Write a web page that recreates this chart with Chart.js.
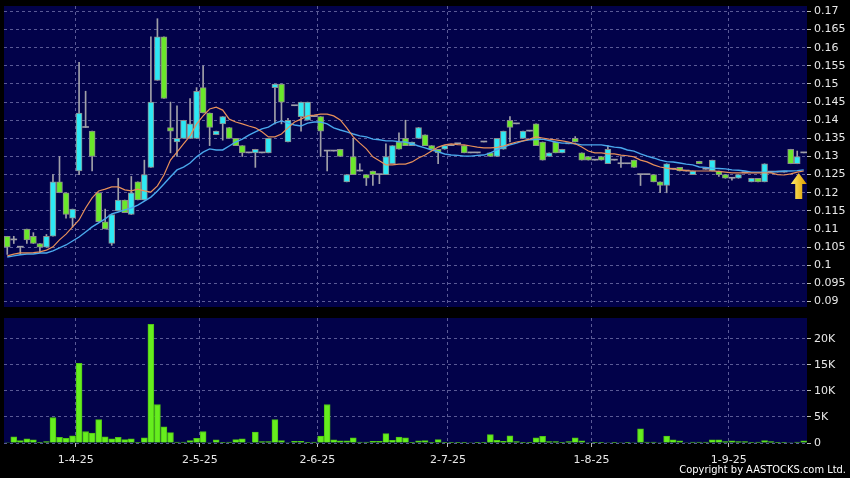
<!DOCTYPE html>
<html>
<head>
<meta charset="utf-8">
<script src="https://cdn.jsdelivr.net/npm/chart.js@4.4.1/dist/chart.umd.min.js"></script>
<style>
html, body { margin: 0; padding: 0; background: #000; }
#quadro { position: relative; width: 850px; height: 478px; overflow: hidden; background: #000; }
#caixaPreco { position: absolute; left: 0; top: 0; }
#caixaVolume { position: absolute; left: 0; top: 312px; }
#copyright { position: absolute; right: 4px; top: 463px; font: 11px "DejaVu Sans Condensed", "DejaVu Sans", sans-serif; color: #fff; white-space: nowrap; }
</style>
</head>
<body>
<div id="quadro">
  <canvas id="caixaPreco" width="850" height="312"></canvas>
  <canvas id="caixaVolume" width="850" height="166"></canvas>
  <div id="copyright">Copyright by AASTOCKS.com Ltd.</div>
</div>
<script>
// rotulos do eixo x (posicao = indice da vela)
const posTicks = [11, 30, 48, 68, 90, 111];
const rotulosTicks = ['1-4-25', '2-5-25', '2-6-25', '2-7-25', '1-8-25', '1-9-25'];
const ticksVolume = [0, 5000, 10000, 15000, 20000];

const abertura = [
  .108,.107,.105,.110,.108,.106,.105,.108,.123,.120,
  .113,.126,.138,.137,.120,.112,.106,.115,.118,.114,
  .123,.118,.127,.151,.163,.138,.134,.135,.135,.135,
  .149,.142,.136,.139,.138,.135,.133,.131,.131,.131,
  .131,.149,.150,.134,.144,.141,.140,.141,.141,.1315,
  .1315,.132,.123,.130,.126,.125,.126,.125,.125,.128,
  .134,.135,.133,.135,.136,.133,.132,.132,.133,.1335,
  .133,.131,.131,.134,.131,.130,.132,.140,.139,.135,
  .137,.139,.134,.130,.134,.131,.1335,.135,.131,.130,
  .129,.130,.128,.129,.128,.128,.129,.125,.125,.125,
  .123,.122,.1265,.127,.126,.125,.1287,.1265,.126,.126,
  .125,.124,.124,.1255,.123,.124,.123,.1257,.1257,.1257,
  .132,.128,.131
];
const maximo = [
  .108,.108,.105,.110,.109,.106,.1085,.125,.130,.120,
  .1155,.156,.148,.137,.120,.1155,.114,.124,.118,.1245,
  .123,.129,.163,.168,.163,.145,.144,.140,.146,.149,
  .155,.142,.137,.141,.138,.135,.133,.131,.132,.131,
  .135,.150,.150,.1405,.144,.145,.145,.141,.141,.1315,
  .1315,.132,.125,.135,.128,.125,.126,.125,.1335,.133,
  .1365,.140,.134,.138,.136,.133,.132,.133,.133,.1335,
  .133,.131,.131,.134,.131,.135,.137,.141,.139,.137,
  .137,.139,.134,.131,.134,.132,.1335,.1355,.131,.130,
  .129,.130,.133,.129,.130,.128,.129,.125,.125,.125,
  .123,.128,.1265,.127,.126,.126,.1287,.1265,.129,.126,
  .125,.124,.125,.1255,.124,.124,.128,.1257,.1257,.1257,
  .132,.1315,.131
];
const minimo = [
  .103,.106,.103,.106,.106,.1035,.105,.108,.120,.113,
  .1105,.125,.138,.126,.112,.110,.1055,.115,.1145,.114,
  .118,.118,.127,.151,.146,.131,.130,.135,.135,.135,
  .142,.133,.136,.1345,.135,.133,.130,.131,.127,.131,
  .131,.139,.139,.134,.144,.137,.140,.141,.130,.126,
  .1315,.130,.123,.125,.126,.122,.122,.1225,.125,.128,
  .132,.133,.133,.135,.133,.132,.128,.132,.133,.1335,
  .131,.131,.131,.134,.130,.130,.132,.134,.139,.135,
  .137,.133,.129,.130,.131,.131,.1335,.134,.129,.129,
  .129,.129,.128,.129,.127,.128,.127,.122,.125,.123,
  .120,.120,.1265,.126,.126,.125,.128,.1265,.126,.1245,
  .124,.1235,.124,.1255,.123,.123,.123,.1257,.1257,.1257,
  .128,.128,.131
];
const fecho = [
  .105,.107,.105,.107,.106,.105,.108,.123,.120,.114,
  .1155,.142,.138,.130,.112,.110,.114,.118,.1145,.120,
  .118,.125,.145,.163,.146,.137,.135,.140,.139,.148,
  .142,.138,.137,.141,.135,.133,.131,.131,.132,.131,
  .135,.150,.145,.140,.144,.145,.145,.141,.137,.1315,
  .1315,.130,.125,.125,.126,.124,.125,.125,.130,.133,
  .132,.133,.134,.138,.133,.132,.131,.133,.133,.1335,
  .131,.131,.131,.134,.130,.135,.137,.138,.139,.137,
  .137,.133,.129,.131,.131,.132,.1335,.134,.129,.129,
  .129,.129,.132,.129,.128,.128,.127,.125,.125,.123,
  .122,.128,.1265,.126,.126,.126,.128,.1265,.129,.125,
  .124,.124,.125,.1255,.124,.123,.128,.1257,.1257,.1257,
  .128,.130,.131
];
const volume = [
  100,1200,450,800,600,50,250,4900,1100,900,
  1400,15300,2200,1900,4500,1200,800,1100,650,800,
  50,1000,22800,7400,3100,2000,200,200,450,900,
  2200,100,600,50,200,650,800,100,2100,250,
  250,4500,450,100,300,300,50,200,1350,7400,
  600,400,400,1000,200,200,300,300,1800,500,
  1150,1000,50,400,450,50,650,50,50,50,
  50,100,50,50,1600,500,300,1400,250,50,
  50,1000,1300,250,250,50,250,1000,400,100,
  50,50,100,50,100,50,100,2700,200,200,
  100,1350,600,400,100,200,200,200,600,600,
  250,400,250,250,50,200,450,250,50,50,
  100,200,400
];
// medias moveis (laranja = curta, azul = longa)
const mediaCurta = [
  .1026,.1031,.1034,.1034,.1035,.1037,.1042,.1051,.1070,.1086,
  .1106,.1125,.1158,.1186,.1205,.1210,.1216,.1216,.1208,.1205,
  .1210,.1205,.1202,.1219,.1249,.1290,.1312,.1335,.1357,.1390,
  .1412,.1431,.1436,.1428,.1403,.1395,.1390,.1384,.1379,.1368,
  .1354,.1354,.1362,.1379,.1395,.1403,.1412,.1414,.1417,.1417,
  .1412,.1401,.1379,.1354,.1337,.1321,.1299,.1288,.1277,.1277,
  .1279,.1279,.1285,.1296,.1304,.1315,.1326,.1332,.1335,.1333,
  .1332,.1329,.1326,.1324,.1324,.1325,.1329,.1335,.1340,.1343,
  .1348,.1354,.1351,.1348,.1346,.1343,.1340,.1335,.1326,.1315,
  .1310,.1310,.1307,.1307,.1304,.1302,.1299,.1290,.1285,.1277,
  .1271,.1268,.1266,.1263,.1261,.1260,.1260,.1260,.1260,.1259,
  .1257,.1255,.1255,.1255,.1255,.1255,.1255,.1255,.1250,.1249,
  .1252,.1257,.1260
];
const mediaLonga = [
  .1023,.1026,.1029,.1031,.1031,.1034,.1034,.1040,.1048,.1056,
  .1067,.1078,.1092,.1106,.1117,.1128,.1142,.1147,.1153,.1158,
  .1166,.1177,.1188,.1205,.1224,.1244,.1263,.1271,.1282,.1299,
  .1312,.1321,.1318,.1318,.1329,.1340,.1348,.1359,.1368,.1376,
  .1381,.1392,.1398,.1392,.1387,.1384,.1392,.1395,.1395,.1390,
  .1379,.1373,.1368,.1362,.1357,.1354,.1348,.1346,.1343,.1343,
  .1341,.1340,.1335,.1329,.1324,.1318,.1313,.1307,.1304,.1303,
  .1301,.1301,.1303,.1304,.1310,.1318,.1326,.1332,.1337,.1343,
  .1346,.1347,.1348,.1344,.1340,.1337,.1337,.1335,.1332,.1332,
  .1332,.1332,.1329,.1326,.1324,.1318,.1315,.1307,.1301,.1296,
  .1290,.1286,.1285,.1282,.1279,.1277,.1271,.1270,.1268,.1267,
  .1266,.1263,.1262,.1260,.1257,.1257,.1257,.1257,.1259,.1260,
  .1260,.1261,.1263
];

const corFundo = '#02024a';
const corGrelha = '#5a5a96';
const corSobe = '#2ee8f4';
const corDesce = '#6ae82a';
const corPavio = '#a0a0a8';
const corTexto = '#e8e8e8';
const fonteEixo = { family: '"DejaVu Sans", sans-serif', size: 11 };

const indices = abertura.map((_, i) => i);
const corpos = indices.map(i => [Math.min(abertura[i], fecho[i]), Math.max(abertura[i], fecho[i])]);
const pavios = indices.map(i => [minimo[i], maximo[i]]);

const fundoPlugin = {
  id: 'fundo',
  beforeDraw(chart) {
    const { ctx, chartArea: a } = chart;
    ctx.save();
    ctx.fillStyle = corFundo;
    ctx.fillRect(a.left, a.top, a.right - a.left, a.bottom - a.top);
    ctx.restore();
  }
};

const setaPlugin = {
  id: 'seta',
  afterDatasetsDraw(chart) {
    const ultimo = mediaCurta.length - 1;
    const x = chart.scales.x.getPixelForValue(ultimo) - 5;
    const topo = chart.scales.y.getPixelForValue(mediaCurta[ultimo]) + 2;
    const ctx = chart.ctx;
    const grad = ctx.createLinearGradient(x - 7, 0, x + 7, 0);
    grad.addColorStop(0, '#ffe866');
    grad.addColorStop(1, '#e0a000');
    ctx.save();
    ctx.beginPath();
    ctx.moveTo(x, topo);
    ctx.lineTo(x + 8, topo + 11);
    ctx.lineTo(x + 3.5, topo + 11);
    ctx.lineTo(x + 3.5, topo + 26);
    ctx.lineTo(x - 3.5, topo + 26);
    ctx.lineTo(x - 3.5, topo + 11);
    ctx.lineTo(x - 8, topo + 11);
    ctx.closePath();
    ctx.fillStyle = grad;
    ctx.fill();
    ctx.restore();
  }
};

// tira o espaco extra que o chart.js reserva para meio rotulo
function eixoDireito(s) {
  s.width = 43;
  s.paddingTop = 0;
  s.paddingBottom = 0;
}

function eixoX(mostrarRotulos) {
  return {
    type: 'linear',
    min: -0.5,
    max: indices.length - 0.5,
    offset: false,
    afterBuildTicks: s => { s.ticks = posTicks.map(v => ({ value: v - 0.5 })); },
    afterFit: s => {
      s.height = mostrarRotulos ? 35 : 0;
      s.paddingLeft = 0;
      s.paddingRight = 0;
    },
    ticks: {
      display: mostrarRotulos,
      color: corTexto,
      font: fonteEixo,
      padding: 7,
      maxRotation: 0,
      autoSkip: false,
      callback: v => rotulosTicks[posTicks.indexOf(Math.round(v + 0.5))]
    },
    grid: { color: corGrelha, offset: false, drawTicks: mostrarRotulos, tickLength: 4, tickColor: '#bbbbbb' },
    border: { display: false, dash: [3, 3] }
  };
}

new Chart(document.getElementById('caixaPreco').getContext('2d'), {
  type: 'bar',
  data: {
    labels: indices,
    datasets: [
      {
        type: 'line', data: mediaCurta, borderColor: '#e8905a', borderWidth: 1.2,
        pointRadius: 0, tension: 0, order: 0
      },
      {
        type: 'line', data: mediaLonga, borderColor: '#4aa8ec', borderWidth: 1.4,
        pointRadius: 0, tension: 0, order: 1
      },
      {
        data: corpos,
        grouped: false,
        barThickness: 6,
        minBarLength: 1,
        order: 2,
        backgroundColor: c => fecho[c.dataIndex] > abertura[c.dataIndex] ? corSobe
          : fecho[c.dataIndex] < abertura[c.dataIndex] ? corDesce : corPavio,
        borderColor: '#8c8c8c',
        borderWidth: c => fecho[c.dataIndex] === abertura[c.dataIndex] ? 0 : 1,
        borderSkipped: false
      },
      {
        data: pavios,
        grouped: false,
        barThickness: 1,
        order: 3,
        backgroundColor: corPavio
      }
    ]
  },
  options: {
    responsive: false,
    animation: false,
    layout: { padding: { left: 4, top: 6, right: 0, bottom: 5 } },
    scales: {
      x: eixoX(false),
      y: {
        position: 'right',
        min: 0.0885,
        max: 0.1715,
        beginAtZero: false,
        afterFit: eixoDireito,
        ticks: {
          stepSize: 0.005,
          includeBounds: false,
          color: corTexto,
          font: fonteEixo,
          padding: 3,
          callback: v => String(+v.toFixed(3))
        },
        grid: { color: corGrelha, tickLength: 4, tickColor: '#bbbbbb' },
        border: { display: false, dash: [3, 3] }
      }
    },
    plugins: { legend: { display: false }, tooltip: { enabled: false } }
  },
  plugins: [fundoPlugin, setaPlugin]
});

new Chart(document.getElementById('caixaVolume').getContext('2d'), {
  type: 'bar',
  data: {
    labels: indices,
    datasets: [{
      data: volume,
      barThickness: 6,
      backgroundColor: '#66ee1e',
      borderColor: '#4fc415',
      borderWidth: 1,
      borderSkipped: 'bottom'
    }]
  },
  options: {
    responsive: false,
    animation: false,
    layout: { padding: { left: 4, top: 6, right: 0, bottom: 0 } },
    scales: {
      x: eixoX(true),
      y: {
        position: 'right',
        min: 0,
        max: 24000,
        afterFit: eixoDireito,
        afterBuildTicks: s => { s.ticks = ticksVolume.map(v => ({ value: v })); },
        ticks: {
          color: corTexto,
          font: fonteEixo,
          padding: 3,
          callback: v => v === 0 ? '0' : (v / 1000) + 'K'
        },
        grid: { color: corGrelha, tickLength: 4, tickColor: '#bbbbbb' },
        border: { display: false, dash: [3, 3] }
      }
    },
    plugins: { legend: { display: false }, tooltip: { enabled: false } }
  },
  plugins: [fundoPlugin]
});
</script>
</body>
</html>
